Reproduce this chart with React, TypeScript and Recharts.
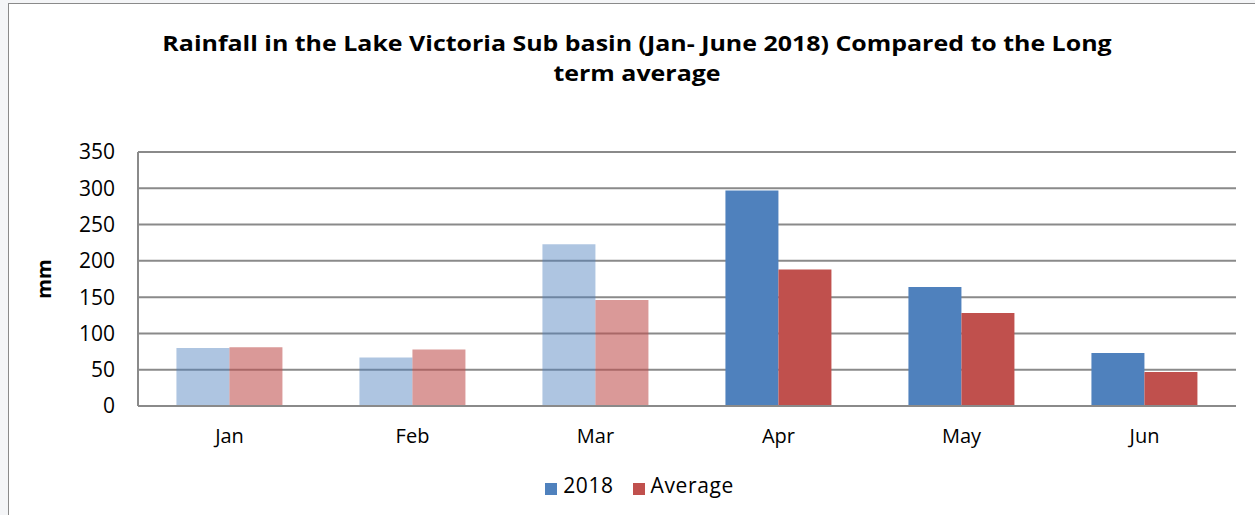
import React from 'react';
import { BarChart, Bar, XAxis, YAxis, CartesianGrid, Legend, Cell } from 'recharts';

const months = ['Jan', 'Feb', 'Mar', 'Apr', 'May', 'Jun'];
const rain2018 = [80, 67, 223, 297, 164, 73];
const average = [81, 78, 146, 188, 128, 47];
const yTicks = [0, 50, 100, 150, 200, 250, 300, 350];
const lightMonths = ['Jan', 'Feb', 'Mar'];

const data = months.map((m, i) => ({ month: m, y2018: rain2018[i], avg: average[i] }));

const BLUE = '#4F81BD';
const RED = '#C0504D';
const FONT = '"Open Sans", "DejaVu Sans", sans-serif';

export default function App() {
  return (
    <div style={{ position: 'absolute', left: 0, top: 0, width: 1255, height: 515, overflow: 'hidden', background: '#f4f5f7', fontFamily: FONT }}>
      <div style={{ position: 'absolute', left: 8, top: 3, width: 1300, height: 600, border: '1px solid #8a8a8a', background: '#ffffff' }} />
      <div
        style={{
          position: 'absolute',
          left: 0,
          top: 28,
          width: 1274,
          textAlign: 'center',
          fontWeight: 700,
          fontSize: 21.5,
          lineHeight: '30px',
          color: '#000',
          transform: 'scaleX(1.16)',
          transformOrigin: '637px 0',
        }}
      >
        Rainfall in the Lake Victoria Sub basin (Jan- June 2018) Compared to the Long
        <br />
        term average
      </div>
      <div style={{ position: 'absolute', left: 0, top: 0 }}>
        <BarChart
          width={1255}
          height={515}
          data={data}
          margin={{ top: 152, right: 19, left: 0, bottom: 8 }}
          barCategoryGap="21%"
          barGap={0}
        >
          <CartesianGrid vertical={false} stroke="#8a8a8a" strokeWidth={2} />
          <XAxis
            dataKey="month"
            height={65}
            tickLine={false}
            axisLine={{ stroke: '#8a8a8a', strokeWidth: 2 }}
            tick={{ fill: '#000', fontSize: 20, fontFamily: FONT }}
            tickMargin={17}
          />
          <YAxis
            width={138}
            domain={[0, 350]}
            ticks={yTicks}
            interval={0}
            tickLine={false}
            axisLine={{ stroke: '#8a8a8a', strokeWidth: 2 }}
            tick={{ fill: '#000', fontSize: 21, fontFamily: FONT }}
            tickMargin={17}
            label={{ value: 'mm', angle: -90, position: 'insideLeft', offset: 44, style: { fontWeight: 700, fontSize: 20, fill: '#000', fontFamily: FONT, textAnchor: 'middle' } }}
          />
          <Legend
            verticalAlign="bottom"
            height={36}
            iconType="square"
            iconSize={12}
            wrapperStyle={{ left: 0, width: 1298 }}
            formatter={(value) => (
              <span style={{ color: '#000', fontSize: 21, letterSpacing: 0.6, fontFamily: FONT, marginLeft: 2, marginRight: 9 }}>{value}</span>
            )}
          />
          <Bar dataKey="y2018" name="2018" fill={BLUE} isAnimationActive={false}>
            {data.map((d, i) => (
              <Cell key={i} fill={BLUE} fillOpacity={lightMonths.includes(d.month) ? 0.46 : 1} />
            ))}
          </Bar>
          <Bar dataKey="avg" name="Average" fill={RED} isAnimationActive={false}>
            {data.map((d, i) => (
              <Cell key={i} fill={RED} fillOpacity={lightMonths.includes(d.month) ? 0.58 : 1} />
            ))}
          </Bar>
        </BarChart>
      </div>
    </div>
  );
}
